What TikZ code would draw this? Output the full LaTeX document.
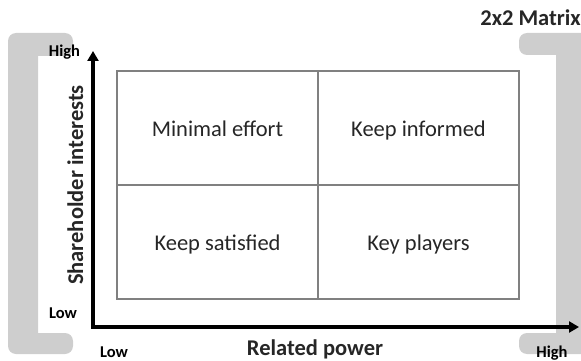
\documentclass[tikz,border=0pt]{standalone}
\usepackage{fontspec}
\setmainfont{Carlito}
\usetikzlibrary{arrows.meta}
\definecolor{brk}{RGB}{206,206,206}
\definecolor{cellline}{RGB}{128,128,128}
\tikzset{
  bracket/.style={fill=brk, draw=none},
  cell/.style={draw=cellline, line width=1.3pt, minimum width=201pt, minimum height=114pt,
    inner sep=0pt, outer sep=0pt, text height=18pt, text depth=2pt,
    font=\fontsize{22.5}{27}\selectfont, text=black!85},
  axislbl/.style={font=\bfseries\fontsize{16.5}{20}\selectfont, anchor=base, inner sep=0pt},
  title/.style={font=\bfseries\fontsize{22.5}{27}\selectfont, anchor=base, inner sep=0pt, text=black!85},
  axis/.style={line width=3.5pt, {Triangle[length=10pt,width=11pt]}-{Triangle[length=10pt,width=11pt]}}
}
\begin{document}
\begin{tikzpicture}[x=1pt,y=-1pt]
\useasboundingbox (0,0) rectangle (581,361);
\clip (0,0) rectangle (581,361);
% brackets
\path[bracket] (38,56) [rounded corners=8pt] -- (73,56) -- (73,33) -- (8,33) -- (8,354) -- (73,354) -- (73,333) [sharp corners] -- (38,333) -- cycle;
\path[bracket] (556,55) [rounded corners=8pt] -- (519,55) -- (519,33) -- (600,33) -- (600,354) -- (519,354) -- (519,333) [sharp corners] -- (556,333) -- cycle;
% matrix cells
\node[cell] (c11) at (217.5,128) {Minimal effort};
\node[cell] (c12) at (418.5,128) {Keep informed};
\node[cell] (c21) at (217.5,242) {Keep satisfied};
\node[cell] (c22) at (418.5,242) {Key players};
% axes
\coordinate (o) at (93,327);
\coordinate (ytop) at (93,51);
\coordinate (xend) at (579,327);
\draw[axis] (ytop) -- (o) -- (xend);
% labels
\node[axislbl] (yhigh) at (64.5,57) {High};
\node[axislbl] (ylow) at (63,318) {Low};
\node[axislbl] (xlow) at (114,357) {Low};
\node[axislbl] (xhigh) at (552,357) {High};
\node[title] (xlabel) at (315,355) {Related power};
\node[title, rotate=90] (ylabel) at (83,185) {Shareholder interests};
\node[title, anchor=base east] (mtitle) at (581,26) {2x2 Matrix};
\end{tikzpicture}
\end{document}
